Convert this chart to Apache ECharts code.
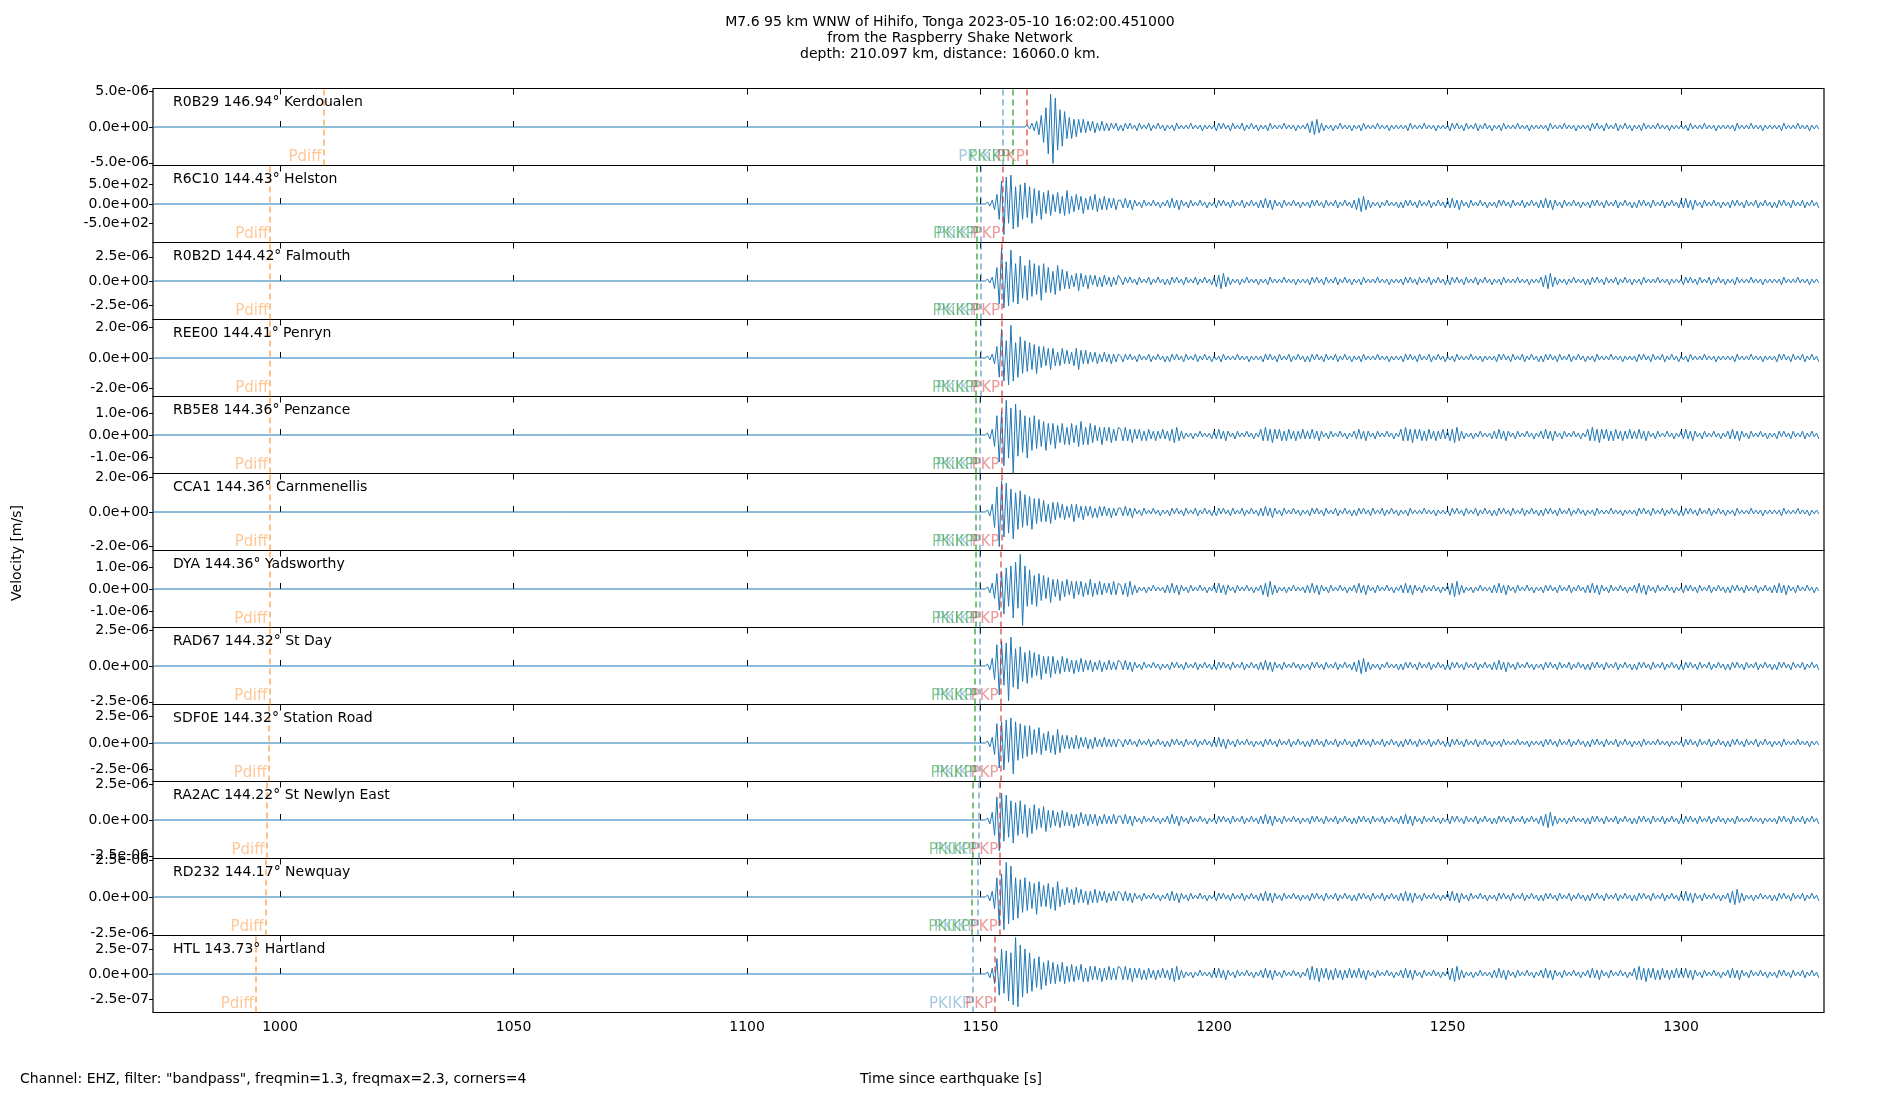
<!DOCTYPE html>
<html><head><meta charset="utf-8">
<script src="https://cdn.jsdelivr.net/npm/echarts@6/dist/echarts.min.js"></script>
<style>html,body{margin:0;padding:0;background:#fff}#c{width:1900px;height:1100px}</style>
</head><body><div id="c"></div>
<script>
// ---- data ----
const stationLabels = ["R0B29 146.94° Kerdoualen","R6C10 144.43° Helston","R0B2D 144.42° Falmouth","REE00 144.41° Penryn","RB5E8 144.36° Penzance","CCA1 144.36° Carnmenellis","DYA 144.36° Yadsworthy","RAD67 144.32° St Day","SDF0E 144.32° Station Road","RA2AC 144.22° St Newlyn East","RD232 144.17° Newquay","HTL 143.73° Hartland"];
const yMaxes = [5.38e-6, 992, 3.97e-6, 2.54e-6, 1.76e-6, 2.23e-6, 1.76e-6, 2.69e-6, 3.6e-6, 2.69e-6, 2.65e-6, 3.87e-7];
const yTicks = [5e-6, 500, 2.5e-6, 2e-6, 1e-6, 2e-6, 1e-6, 2.5e-6, 2.5e-6, 2.5e-6, 2.5e-6, 2.5e-7];
const pdiffTimes = [1009.3, 997.9, 997.9, 997.9, 997.8, 997.8, 997.7, 997.7, 997.6, 997.1, 996.9, 994.8];
const pkikpTimes = [1154.7, 1150.0, 1150.0, 1150.0, 1149.9, 1149.9, 1149.9, 1149.8, 1149.8, 1149.6, 1149.5, 1148.4];
const pkikp2Times = [1156.8, 1149.2, 1149.1, 1149.0, 1149.0, 1149.0, 1148.9, 1148.8, 1148.7, 1148.3, 1148.2, null];
const pkpTimes = [1159.9, 1154.7, 1154.6, 1154.6, 1154.5, 1154.5, 1154.4, 1154.3, 1154.3, 1154.2, 1154.1, 1153.1];
const xTickLabels = [1000, 1050, 1100, 1150, 1200, 1250, 1300];
const waveStart = 1150, waveStep = 0.5; // amplitudes in twentieths of each panel's half-height
// first 30 s of each trace (1150-1180 s)
const heads = [
[0,0,0,0,0,0,0,0,0,0,0,0,0,0,0,0,0,0,0,0, 1,-1,2,-2,3,-4,6,-8,10,-14,17,-19,15,-12,9,-10,8,-6,5,-6, 4,-5,4,-3,4,-3,3,-2,3,-3,2,-2,3,-2,2,-2,2,-1,2,-2],
[0,0,0,1,-1,2,-3,5,-8,12,-16,14,-10,15,-13,9,-12,10,-8,11, -7,9,-10,8,-6,7,-8,6,-5,7,-6,5,-4,6,-5,4,-6,7,-5,4, -4,5,-3,4,-5,3,-3,4,-3,5,-4,3,-3,4,-3,3,-2,3,-3,2],
[0,0,0,1,-1,2,-4,7,-12,17,-14,10,-13,16,-11,9,-12,13,-9,8, -10,11,-8,9,-7,8,-10,9,-6,7,-6,5,-7,8,-5,6,-4,5,-4,3, -3,4,-5,4,-3,3,-4,3,-2,3,-3,2,-3,3,-2,2,-3,2,-2,3],
[0,0,0,1,-1,2,-3,6,-10,15,-12,9,-14,17,-12,8,-10,11,-8,9, -7,8,-6,7,-8,6,-5,6,-4,5,-6,5,-4,3,-4,5,-3,4,-3,3, -4,5,-6,4,-3,4,-3,3,-2,3,-3,2,-2,3,-2,2,-3,2,-2,2],
[0,0,0,1,-2,3,-6,10,-14,12,-16,18,-12,14,-20,16,-11,13,-9,10, -12,9,-8,10,-7,8,-6,7,-8,6,-5,6,-7,5,-4,6,-5,4,-5,6, -4,5,-6,7,-5,4,-5,6,-4,5,-3,4,-5,4,-3,4,-4,3,-3,4],
[0,0,0,1,-2,4,-8,13,-18,16,-13,15,-11,12,-14,10,-9,11,-8,9, -7,8,-9,7,-6,7,-5,6,-5,4,-6,5,-4,5,-3,4,-4,3,-3,4, -5,4,-3,3,-4,3,-2,3,-3,2,-3,3,-2,3,-2,2,-3,2,-2,2],
[0,0,0,1,-2,3,-5,8,-11,9,-13,11,-9,12,-15,14,-10,18,-19,12, -9,10,-8,7,-9,8,-6,7,-5,6,-7,5,-4,5,-6,4,-4,5,-3,4, -5,4,-3,4,-4,3,-3,5,-4,3,-3,4,-3,3,-2,3,-3,4,-3,3],
[0,0,0,1,-2,4,-7,11,-15,13,-10,12,-18,15,-11,9,-12,10,-8,7, -9,8,-6,7,-5,6,-7,5,-4,5,-6,5,-4,3,-4,5,-3,4,-3,3, -4,3,-3,4,-3,3,-2,3,-3,2,-2,3,-3,2,-2,3,-2,2,-2,3],
[0,0,0,1,-2,3,-6,10,-13,11,-14,12,-10,13,-16,11,-9,10,-8,9, -7,9,-6,7,-5,8,-6,5,-4,6,-5,4,-6,7,-5,4,-3,4,-3,3, -3,4,-3,3,-2,3,-3,2,-3,3,-2,2,-2,3,-2,2,-2,2,-2,2],
[0,0,0,1,-2,4,-8,12,-16,14,-11,13,-9,10,-12,9,-8,10,-7,8, -9,6,-7,8,-5,6,-4,7,-6,5,-4,5,-3,4,-4,5,-3,4,-3,3, -4,3,-3,4,-2,3,-3,3,-2,3,-3,2,-2,3,-2,2,-2,3,-2,2],
[0,0,0,1,-2,3,-6,10,-15,12,-17,18,-14,16,-12,10,-11,9,-8,10, -7,8,-6,7,-9,8,-5,6,-5,7,-6,5,-7,8,-5,4,-4,5,-3,4, -4,5,-3,4,-3,3,-4,3,-3,4,-3,3,-2,3,-3,2,-2,3,-2,3],
[0,0,0,1,-2,3,-5,8,-11,13,-10,12,-14,11,-16,19,-17,15,-12,13, -10,11,-9,8,-7,9,-8,6,-6,7,-5,6,-5,5,-4,6,-5,4,-4,5, -4,4,-3,5,-4,3,-4,4,-3,4,-3,3,-4,3,-3,4,-3,3,-3,4]
];
// 10-s coda blocks (20 samples each)
const coda1 = [1,-1,1,-2,2,-1,1,-1,1,-1,2,-1,1,-1,1,-2,1,-1,1,-1];
const coda2 = [1,-2,2,-1,2,-1,1,-2,2,-1,1,-1,2,-2,1,-1,2,-1,1,-2];
const coda3 = [2,-2,3,-2,2,-3,2,-1,1,-2,2,-1,1,-1,2,-1,1,-2,1,-1];
const coda4 = [2,-3,3,-4,4,-3,2,-2,1,-1,1,-2,1,-1,2,-1,1,-1,1,-2];
const coda5 = [3,-3,4,-3,3,-4,3,-2,3,-3,2,-3,3,-2,2,-3,2,-2,3,-2];
// which coda block fills each 10 s from 1180 s to 1330 s
const codaOrder = [
[2,1,2,1,4,1,1,2,1,1,2,1,1,1,1],
[3,3,2,3,2,4,2,3,2,3,2,2,3,2,2],
[2,2,4,1,2,1,2,2,1,4,2,1,2,1,1],
[2,2,1,2,2,1,2,1,2,2,1,2,1,1,2],
[5,4,3,5,3,3,5,4,3,3,5,3,3,3,2],
[3,2,2,3,2,2,1,2,2,2,1,2,2,1,1],
[4,3,3,4,3,3,3,4,3,2,3,3,2,2,3],
[3,2,2,3,2,4,2,2,3,2,2,2,2,2,2],
[2,2,3,2,2,2,2,2,1,2,2,1,2,2,1],
[3,3,2,3,2,2,3,2,2,4,2,2,2,1,2],
[3,3,2,3,2,2,3,3,2,2,2,2,3,4,2],
[5,4,3,3,5,3,3,4,3,3,3,5,3,3,2]
];
// ---- layout ----
const X_MIN = 972.8, X_MAX = 1330.6;
const L = 153, R = 76, TOP = 88.5, PH = 77;
const C_PDIFF = 'rgba(255,127,14,0.55)', C_BLUE = 'rgba(31,119,180,0.5)', C_GREEN = 'rgba(44,160,44,0.7)', C_RED = 'rgba(214,39,40,0.6)';
const codaBlocks = [null, coda1, coda2, coda3, coda4, coda5];
function fmt(v){ if (v===0) return '0.0e+00'; let s=v.toExponential(1); let [m,e]=s.split('e'); let sign=e[0]==='-'?'-':'+'; let d=e.replace(/[+-]/,''); if(d.length<2)d='0'+d; return m+'e'+sign+d; }
const grid=[], xAxis=[], yAxis=[], series=[], title=[];
title.push({text:'M7.6 95 km WNW of Hihifo, Tonga 2023-05-10 16:02:00.451000\nfrom the Raspberry Shake Network\ndepth: 210.097 km, distance: 16060.0 km.',left:'center',top:9,textStyle:{fontSize:14,fontWeight:'normal',color:'#000',lineHeight:16,fontFamily:'DejaVu Sans',align:'center'}});
for (let i=0;i<12;i++){
  const top = TOP + i*PH;
  grid.push({left:L,right:R,top:top,height:PH,show:true,borderColor:'#000',borderWidth:1.2,backgroundColor:'transparent'});
  const last = i===11;
  xAxis.push({type:'value',gridIndex:i,min:X_MIN,max:X_MAX,position:'bottom',axisLine:{show:false},splitLine:{show:false},
    axisTick:{show:true,inside:true,length:6,customValues:xTickLabels,lineStyle:{color:'#000'}},
    axisLabel:{show:last,customValues:xTickLabels,formatter:v=>String(v),fontSize:14,color:'#000',fontFamily:'DejaVu Sans',margin:8}});
  xAxis.push({type:'value',gridIndex:i,min:X_MIN,max:X_MAX,position:'top',axisLine:{show:false},splitLine:{show:false},
    axisTick:{show:true,inside:true,length:6,customValues:xTickLabels,lineStyle:{color:'#000'}},axisLabel:{show:false}});
  const ym=yMaxes[i], yt=yTicks[i];
  yAxis.push({type:'value',gridIndex:i,min:-ym,max:ym,axisLine:{show:false},splitLine:{show:false},
    axisTick:{show:true,length:4,customValues:[-yt,0,yt],lineStyle:{color:'#000'}},
    axisLabel:{customValues:[-yt,0,yt],formatter:fmt,fontSize:14,color:'#000',fontFamily:'DejaVu Sans',margin:4}});
  title.push({text:stationLabels[i],left:168,top:top+2,textStyle:{fontSize:14,fontWeight:'normal',color:'#000',fontFamily:'DejaVu Sans'}});
  let amps = heads[i].slice();
  codaOrder[i].forEach(b=>{ amps = amps.concat(codaBlocks[b]); });
  const data=[[X_MIN,0]];
  amps.forEach((v,k)=>data.push([waveStart+k*waveStep, v*ym/20]));
  series.push({type:'line',xAxisIndex:2*i,yAxisIndex:i,data:data,showSymbol:false,symbol:'none',lineStyle:{color:'#1f77b4',width:1},silent:true,animation:false});
  const phases=[[pdiffTimes[i],'Pdiff',C_PDIFF],[pkikpTimes[i],'PKIKP',C_BLUE],[pkikp2Times[i],'PKiKP',C_GREEN],[pkpTimes[i],'PKP',C_RED]].filter(p=>p[0]!=null);
  series.push({type:'scatter',xAxisIndex:2*i,yAxisIndex:i,symbolSize:0,animation:false,silent:true,
    data:phases.map(p=>({value:[p[0],-0.77*ym],label:{show:true,position:'left',distance:2,formatter:p[1],color:p[2],fontSize:15,fontFamily:'DejaVu Sans'}})),
    markLine:{symbol:'none',silent:true,animation:false,label:{show:false},
      data:phases.map(p=>({xAxis:p[0],lineStyle:{color:p[2],type:[6,4],width:1.8}}))}});
}
const chart=echarts.init(document.getElementById('c'));
chart.setOption({animation:false,title:title,grid:grid,xAxis:xAxis,yAxis:yAxis,series:series,
 graphic:[
  {type:'text',left:20,top:1072,style:{text:'Channel: EHZ, filter: "bandpass", freqmin=1.3, freqmax=2.3, corners=4',fontSize:14,fill:'#000',fontFamily:'DejaVu Sans'}},
  {type:'text',left:860,top:1072,style:{text:'Time since earthquake [s]',fontSize:14,fill:'#000',fontFamily:'DejaVu Sans'}},
  {type:'text',x:10,y:553,rotation:Math.PI/2,style:{text:'Velocity [m/s]',fontSize:14,fill:'#000',fontFamily:'DejaVu Sans',align:'center',verticalAlign:'top'}}
 ]});
</script></body></html>
